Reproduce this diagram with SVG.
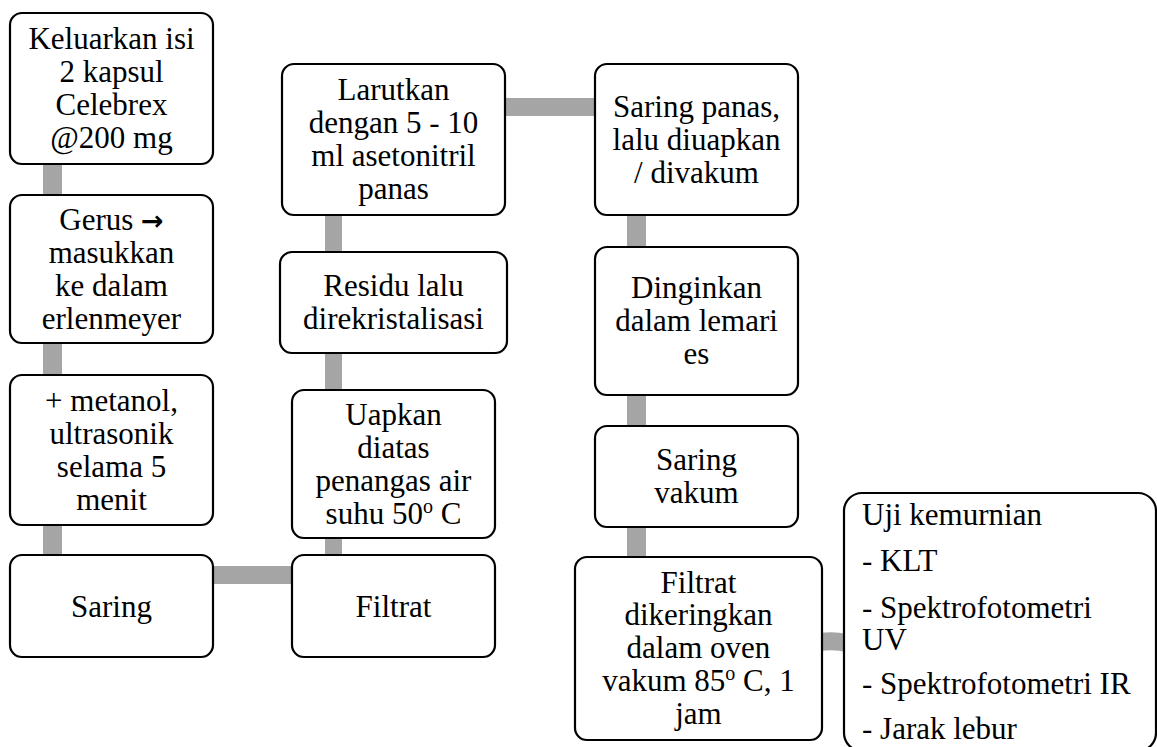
<svg xmlns="http://www.w3.org/2000/svg" width="1157" height="747" viewBox="0 0 1157 747">
<style>
.box{fill:#fff;stroke:#000;stroke-width:2.2}
text{font-family:'Liberation Serif','Times New Roman',serif;font-size:31px;fill:#000}
.t{text-anchor:middle}
.c{fill:#a5a5a5}
.arr{font-family:'DejaVu Sans',sans-serif;font-weight:bold;font-size:27px}
</style>
<rect width="1157" height="747" fill="#fff"/>
<g id="connectors">
<rect class="c" x="43" y="160" width="19" height="40"/>
<rect class="c" x="43" y="340" width="19" height="40"/>
<rect class="c" x="43" y="520" width="19" height="40"/>
<rect class="c" x="210" y="566" width="86" height="18"/>
<rect class="c" x="325" y="534" width="17" height="26"/>
<rect class="c" x="325" y="350" width="17" height="44"/>
<rect class="c" x="325" y="210" width="17" height="46"/>
<rect class="c" x="502" y="98" width="97" height="18"/>
<rect class="c" x="627" y="210" width="19" height="41"/>
<rect class="c" x="627" y="390" width="19" height="40"/>
<rect class="c" x="627" y="522" width="19" height="39"/>
<path class="c" d="M820,633 Q834,631 847,634 L847,652 Q834,649 820,651 Z"/>
</g>
<g id="n1"><rect class="box" x="10" y="13" width="203" height="151" rx="12"/>
<text class="t" x="111.5" y="48.5">Keluarkan isi</text><text class="t" x="111.5" y="81.5">2 kapsul</text><text class="t" x="111.5" y="114.5">Celebrex</text><text class="t" x="111.5" y="147.5">@200 mg</text></g>
<g id="n2"><rect class="box" x="10" y="195" width="203" height="148" rx="12"/>
<text class="t" x="111.5" y="230">Gerus <tspan class="arr">→</tspan></text><text class="t" x="111.5" y="263">masukkan</text><text class="t" x="111.5" y="296">ke dalam</text><text class="t" x="111.5" y="329">erlenmeyer</text></g>
<g id="n3"><rect class="box" x="10" y="375" width="203" height="150" rx="12"/>
<text class="t" x="111.5" y="410.5">+ metanol,</text><text class="t" x="111.5" y="443.5">ultrasonik</text><text class="t" x="111.5" y="476.5">selama 5</text><text class="t" x="111.5" y="509.5">menit</text></g>
<g id="n4"><rect class="box" x="10" y="555" width="203" height="102" rx="12"/>
<text class="t" x="111.5" y="616.5">Saring</text></g>
<g id="n5"><rect class="box" x="292" y="555" width="203" height="102" rx="12"/>
<text class="t" x="393.5" y="616.5">Filtrat</text></g>
<g id="n6"><rect class="box" x="292" y="390" width="203" height="148" rx="12"/>
<text class="t" x="393.5" y="424.5">Uapkan</text><text class="t" x="393.5" y="457.5">diatas</text><text class="t" x="393.5" y="490.5">penangas air</text><text class="t" x="393.5" y="523.5">suhu 50<tspan font-size="20" baseline-shift="super">o</tspan> C</text></g>
<g id="n7"><rect class="box" x="280" y="252" width="227" height="101" rx="12"/>
<text class="t" x="393.5" y="296">Residu lalu</text><text class="t" x="393.5" y="329">direkristalisasi</text></g>
<g id="n8"><rect class="box" x="282" y="64" width="223" height="151" rx="12"/>
<text class="t" x="393.5" y="100">Larutkan</text><text class="t" x="393.5" y="133">dengan 5 - 10</text><text class="t" x="393.5" y="166">ml asetonitril</text><text class="t" x="393.5" y="199">panas</text></g>
<g id="n9"><rect class="box" x="595" y="64" width="203" height="151" rx="12"/>
<text class="t" x="696.5" y="117">Saring panas,</text><text class="t" x="696.5" y="150">lalu diuapkan</text><text class="t" x="696.5" y="183">/ divakum</text></g>
<g id="n10"><rect class="box" x="595" y="247" width="203" height="148" rx="12"/>
<text class="t" x="696.5" y="298">Dinginkan</text><text class="t" x="696.5" y="331">dalam lemari</text><text class="t" x="696.5" y="364">es</text></g>
<g id="n11"><rect class="box" x="595" y="426" width="203" height="101" rx="12"/>
<text class="t" x="696.5" y="470">Saring</text><text class="t" x="696.5" y="503">vakum</text></g>
<g id="n12"><rect class="box" x="575" y="557" width="247" height="183" rx="12"/>
<text class="t" x="698.5" y="592.5">Filtrat</text><text class="t" x="698.5" y="625">dikeringkan</text><text class="t" x="698.5" y="658">dalam oven</text><text class="t" x="698.5" y="691">vakum 85<tspan font-size="20" baseline-shift="super">o</tspan> C, 1</text><text class="t" x="698.5" y="724">jam</text></g>
<g id="n13"><rect class="box" x="844" y="493" width="312" height="258" rx="18"/>
<text x="862" y="525">Uji kemurnian</text><text x="862" y="571">- KLT</text><text x="862" y="618">- Spektrofotometri</text><text x="862" y="650">UV</text><text x="862" y="694">- Spektrofotometri IR</text><text x="862" y="739">- Jarak lebur</text></g>
</svg>
